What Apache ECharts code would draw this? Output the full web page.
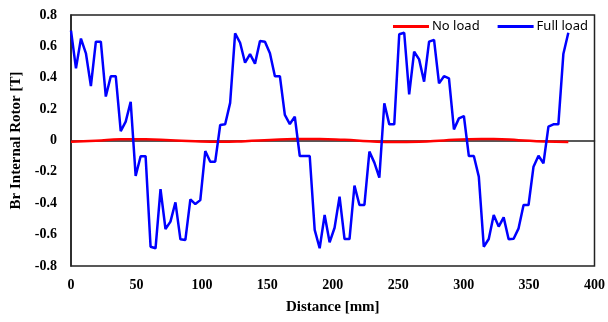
<!DOCTYPE html>
<html>
<head>
<meta charset="utf-8">
<script src="https://cdn.jsdelivr.net/npm/echarts@6/dist/echarts.min.js"></script>
<style>
  html, body { margin: 0; padding: 0; background: #fff; }
  #chart { width: 608px; height: 322px; }
</style>
</head>
<body>
<div id="chart"></div>
<script>
// distance along the air gap [mm]
const distance = [
  0, 3.8, 7.6, 11.4, 15.2, 19, 22.8, 26.6, 30.4, 34.2,
  38, 41.8, 45.6, 49.4, 53.2, 57, 60.8, 64.6, 68.4, 72.2,
  76, 79.8, 83.6, 87.4, 91.2, 95, 98.8, 102.6, 106.4, 110.2,
  114, 117.8, 121.6, 125.4, 129.2, 133, 136.8, 140.6, 144.4, 148.2,
  152, 155.8, 159.6, 163.4, 167.2, 171, 174.8, 178.6, 182.4, 186.2,
  190, 193.8, 197.6, 201.4, 205.2, 209, 212.8, 216.6, 220.4, 224.2,
  228, 231.8, 235.6, 239.4, 243.2, 247, 250.8, 254.6, 258.4, 262.2,
  266, 269.8, 273.6, 277.4, 281.2, 285, 288.8, 292.6, 296.4, 300.2,
  304, 307.8, 311.6, 315.4, 319.2, 323, 326.8, 330.6, 334.4, 338.2,
  342, 345.8, 349.6, 353.4, 357.2, 361, 364.8, 368.6, 372.4, 376.2,
  380
]

const fullLoad = [
  0.70, 0.46, 0.65, 0.556, 0.347, 0.63, 0.63, 0.28, 0.41, 0.41,
  0.06, 0.12, 0.247, -0.226, -0.10, -0.10, -0.677, -0.687, -0.31, -0.564,
  -0.517, -0.394, -0.63, -0.634, -0.375, -0.405, -0.38, -0.067, -0.135, -0.135,
  0.099, 0.103, 0.24, 0.683, 0.623, 0.496, 0.551, 0.49, 0.634, 0.63,
  0.556, 0.41, 0.41, 0.163, 0.105, 0.152, -0.099, -0.099, -0.099, -0.57,
  -0.687, -0.475, -0.649, -0.556, -0.358, -0.628, -0.628, -0.288, -0.411, -0.411,
  -0.071, -0.141, -0.237, 0.237, 0.103, 0.103, 0.677, 0.687, 0.294, 0.566,
  0.517, 0.375, 0.63, 0.641, 0.364, 0.41, 0.396, 0.071, 0.141, 0.156,
  -0.099, -0.099, -0.23, -0.677, -0.628, -0.475, -0.549, -0.49, -0.63, -0.626,
  -0.56, -0.411, -0.411, -0.167, -0.097, -0.145, 0.088, 0.103, 0.103, 0.551,
  0.687
]

const noLoadDistance = [0, 19, 38, 57, 76, 95, 114, 133, 152, 171, 190, 209, 228, 247, 266, 285, 304, 323, 342, 361, 380]
const noLoad = [
  -0.008, -0.002, 0.008, 0.008, 0.002, -0.005, -0.008, -0.004, 0.003, 0.009,
  0.01, 0.004, -0.005, -0.01, -0.008, 0.0, 0.008, 0.009, 0.002, -0.007, -0.01
]

const chart = echarts.init(document.getElementById('chart'))

const tickFont = {
  fontFamily: 'Liberation Serif',
  fontWeight: 'bold',
  fontSize: 14,
  color: '#000',
}

chart.setOption({
  animation: false,
  grid: {
    left: 71, right: 12, top: 15, bottom: 56,
    show: true, borderColor: '#222', borderWidth: 1.5,
  },
  legend: {
    top: 15,
    right: 15,
    itemWidth: 36,
    itemHeight: 3,
    itemGap: 18,
    icon: 'rect',
    textStyle: { fontFamily: 'Noto Sans', fontSize: 13, color: '#000', padding: [0, 0, 0, -2] },
    data: ['No load', 'Full load'],
  },
  xAxis: {
    type: 'value',
    min: 0, max: 400, interval: 50,
    name: 'Distance [mm]',
    nameLocation: 'middle',
    nameGap: 34,
    nameTextStyle: { fontFamily: 'Liberation Serif', fontWeight: 'bold', fontSize: 15, color: '#000' },
    axisLine: { show: true, lineStyle: { color: '#222', width: 1.5 } },
    axisTick: { show: false },
    splitLine: { show: false },
    axisLabel: { ...tickFont, margin: 12 },
  },
  yAxis: {
    type: 'value',
    min: -0.8, max: 0.8, interval: 0.2,
    name: 'Br Internal Rotor [T]',
    nameLocation: 'middle',
    nameGap: 45,
    nameTextStyle: { fontFamily: 'Liberation Serif', fontWeight: 'bold', fontSize: 15, color: '#000' },
    axisLine: { show: true, lineStyle: { color: '#222', width: 1.5 } },
    axisTick: { show: false },
    splitLine: { show: false },
    axisLabel: { ...tickFont, margin: 14 },
  },
  series: [
    {
      name: 'No load',
      type: 'line',
      data: noLoadDistance.map((d, i) => [d, noLoad[i]]),
      showSymbol: false,
      smooth: true,
      lineStyle: { color: '#ff0000', width: 2.5 },
      itemStyle: { color: '#ff0000' },
    },
    {
      name: 'Full load',
      type: 'line',
      data: distance.map((d, i) => [d, fullLoad[i]]),
      showSymbol: false,
      lineStyle: { color: '#0000ff', width: 2.5 },
      itemStyle: { color: '#0000ff' },
    },
  ],
})
</script>
</body>
</html>
